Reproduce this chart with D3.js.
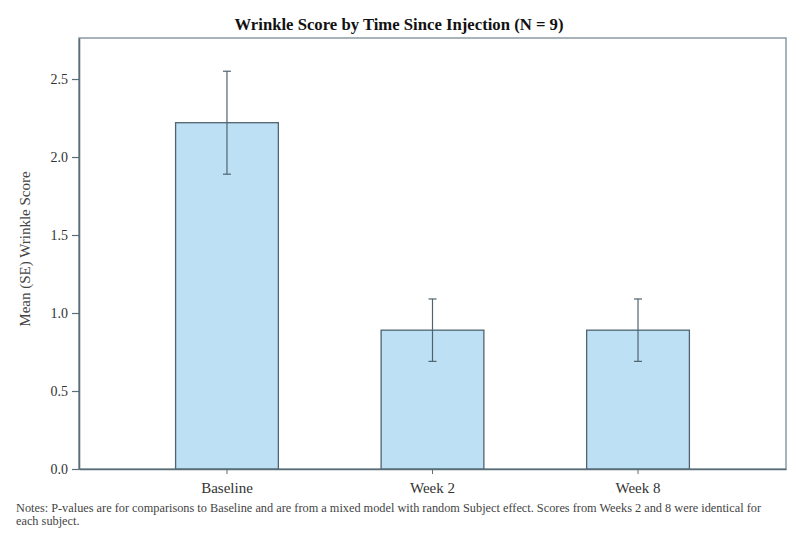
<!DOCTYPE html>
<html><head><meta charset="utf-8">
<script src="https://cdn.jsdelivr.net/npm/d3@7"></script>
<style>body{margin:0;background:#fff}svg{display:block}text{font-family:"Liberation Serif","Times New Roman",serif}</style>
</head><body>
<svg id="c" width="798" height="541"></svg>
<script>
const categories = ["Baseline", "Week 2", "Week 8"];
const means = [2.22, 0.89, 0.89];
const ses = [0.33, 0.20, 0.20];
const yTicks = [0.0, 0.5, 1.0, 1.5, 2.0, 2.5];
const title = "Wrinkle Score by Time Since Injection (N = 9)";
const yLabel = "Mean (SE) Wrinkle Score";
const notes = ["Notes:  P-values are for comparisons to Baseline and are from a mixed model with random Subject effect. Scores from Weeks 2 and 8 were identical for",
               "each subject."];

const svg = d3.select("#c");
const L = 79, R = 786, T = 38, B = 469;
const x = d3.scaleBand().domain(categories).range([L, R]).paddingInner(0.5).paddingOuter(0.47);
const y = d3.scaleLinear().domain([0, 2.763]).range([B, T]);

// frame
svg.append("rect").attr("x", L).attr("y", T).attr("width", R - L).attr("height", B - T)
  .attr("fill", "none").attr("stroke", "#8a9aa3").attr("stroke-width", 1.5);

// bars
const data = categories.map((c, i) => ({c, m: means[i], s: ses[i]}));
svg.selectAll("rect.bar").data(data).join("rect").attr("class", "bar")
  .attr("x", d => x(d.c)).attr("width", x.bandwidth())
  .attr("y", d => y(d.m)).attr("height", d => B - y(d.m))
  .attr("fill", "#bde0f4").attr("stroke", "#4f6470").attr("stroke-width", 1.3);

// error bars
const eb = svg.selectAll("g.eb").data(data).join("g").attr("class", "eb")
  .attr("stroke", "#4f6470").attr("stroke-width", 1.2);
const cx = d => x(d.c) + x.bandwidth() / 2;
eb.append("line").attr("x1", cx).attr("x2", cx)
  .attr("y1", d => y(d.m + d.s)).attr("y2", d => y(d.m - d.s));
eb.append("line").attr("x1", d => cx(d) - 4).attr("x2", d => cx(d) + 4)
  .attr("y1", d => y(d.m + d.s)).attr("y2", d => y(d.m + d.s));
eb.append("line").attr("x1", d => cx(d) - 4).attr("x2", d => cx(d) + 4)
  .attr("y1", d => y(d.m - d.s)).attr("y2", d => y(d.m - d.s));

// axes
const ya = svg.append("g").attr("transform", `translate(${L},0)`)
  .call(d3.axisLeft(y).tickValues(yTicks).tickFormat(d3.format(".1f")).tickSize(7).tickSizeOuter(0).tickPadding(4));
ya.select(".domain").attr("stroke", "#5a6e78").attr("stroke-width", 1.6);
ya.selectAll(".tick line").attr("stroke", "#5a6e78").attr("stroke-width", 1.2);
ya.selectAll("text").attr("font-size", 14).attr("fill", "#333").attr("font-family", "Liberation Serif, serif");

const xa = svg.append("g").attr("transform", `translate(0,${B})`)
  .call(d3.axisBottom(x).tickSize(5).tickSizeOuter(0).tickPadding(8));
xa.select(".domain").attr("stroke", "#5a6e78").attr("stroke-width", 1.6);
xa.selectAll(".tick line").attr("stroke", "#5a6e78");
xa.selectAll("text").attr("font-size", 15).attr("fill", "#333").attr("font-family", "Liberation Serif, serif");

// title
svg.append("text").attr("x", 399).attr("y", 30).attr("text-anchor", "middle")
  .attr("font-size", 16.7).attr("font-weight", "bold").attr("fill", "#111").text(title);

// y label
svg.append("text").attr("transform", `translate(30,249) rotate(-90)`).attr("text-anchor", "middle")
  .attr("font-size", 15).attr("fill", "#444").text(yLabel);

// notes
svg.selectAll("text.note").data(notes).join("text").attr("class", "note")
  .attr("x", 16).attr("y", (d, i) => 512 + i * 13).attr("font-size", 12.3).attr("fill", "#444").text(d => d);
</script>
</body></html>
